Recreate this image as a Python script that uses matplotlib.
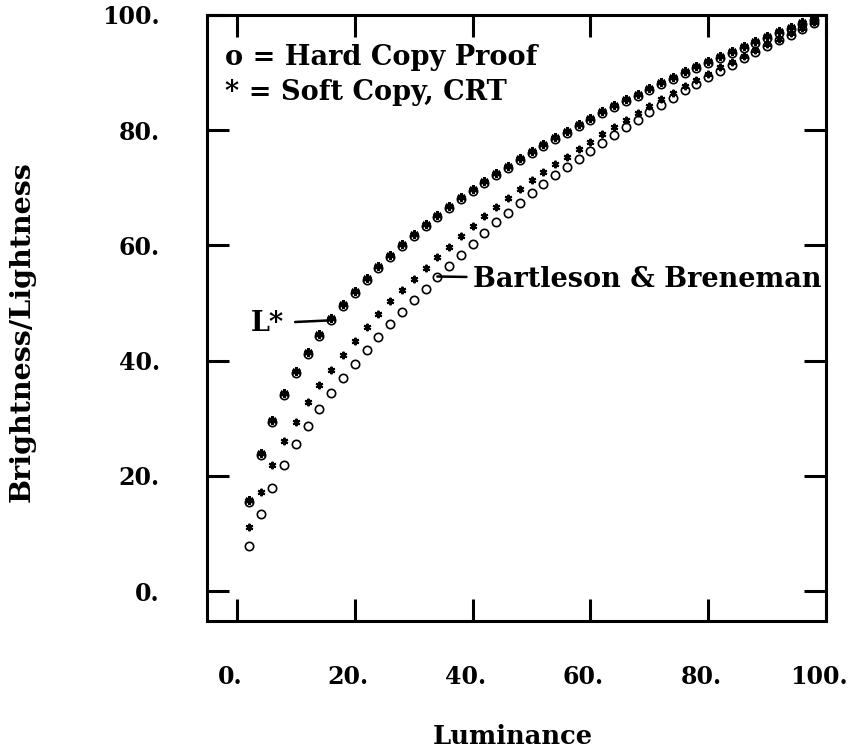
"""
    Brightness/Lightness versus Luminance: L* against Bartleson & Breneman.
"""
########################################################################################################################
# Imports
########################################################################################################################

import logging
import sys

import matplotlib
matplotlib.use("Agg")
import matplotlib.pyplot as plt
import matplotlib.transforms as mtransforms

########################################################################################################################
# Globals & Constants
########################################################################################################################

logger = logging.getLogger(name=__name__)

# Luminance samples (x axis).
LUMINANCE = [2, 4, 6, 8, 10, 12, 14, 16, 18, 20, 22, 24, 26, 28, 30, 32, 34, 36, 38, 40, 42, 44, 46, 48, 50,
             52, 54, 56, 58, 60, 62, 64, 66, 68, 70, 72, 74, 76, 78, 80, 82, 84, 86, 88, 90, 92, 94, 96, 98]

# Upper curve, L* (drawn with both the hard copy and soft copy symbols).
L_STAR = [15.5, 23.7, 29.4, 34.0, 37.8, 41.2, 44.2, 47.0, 49.5, 51.8, 54.0, 56.1, 58.0, 59.9, 61.7, 63.3, 65.0,
          66.5, 68.0, 69.5, 70.9, 72.2, 73.5, 74.8, 76.1, 77.3, 78.5, 79.6, 80.7, 81.8, 82.9, 84.0, 85.0, 86.0,
          87.0, 88.0, 88.9, 89.9, 90.8, 91.7, 92.6, 93.4, 94.3, 95.2, 96.0, 96.8, 97.6, 98.4, 99.2]

# Bartleson & Breneman, hard copy proof (circles).
HARD_COPY = [7.9, 13.3, 17.9, 21.9, 25.5, 28.7, 31.6, 34.3, 36.9, 39.4, 41.8, 44.1, 46.3, 48.5, 50.6, 52.5, 54.6,
             56.5, 58.4, 60.3, 62.2, 64.0, 65.7, 67.4, 69.1, 70.7, 72.2, 73.6, 75.0, 76.4, 77.8, 79.2, 80.5, 81.8,
             83.1, 84.4, 85.6, 86.9, 88.0, 89.2, 90.3, 91.4, 92.5, 93.6, 94.6, 95.6, 96.6, 97.6, 98.6]

# Bartleson & Breneman, soft copy CRT (asterisks).
SOFT_COPY = [11.2, 17.2, 21.9, 26.0, 29.4, 32.8, 35.7, 38.4, 41.0, 43.4, 45.8, 48.1, 50.3, 52.3, 54.1, 56.0, 58.0,
             59.8, 61.6, 63.4, 65.1, 66.7, 68.2, 69.8, 71.3, 72.7, 74.1, 75.4, 76.7, 78.0, 79.3, 80.6, 81.8, 83.0,
             84.2, 85.4, 86.5, 87.7, 88.8, 89.8, 90.9, 91.9, 92.9, 94.0, 94.9, 95.9, 96.8, 97.8, 98.7]

X_TICKS = [0, 20, 40, 60, 80, 100]
X_TICK_LABELS = ["0.", "20.", "40.", "60.", "80.", "100."]
Y_TICKS = [0, 20, 40, 60, 80, 100]
Y_TICK_LABELS = ["0.", "20.", "40.", "60.", "80.", "100."]

LEGEND_LINES = ["o = Hard Copy Proof", "* = Soft Copy, CRT"]

FONT = "DejaVu Serif"
TICK_SIZE = 17
TEXT_SIZE = 19.5
ASTERISK = (6, 2, 0)


########################################################################################################################
# Script: Body
########################################################################################################################

def plot_brightness(path: str = "out.png") -> None:
    """
    Draws the three curves, the annotations and saves the figure.

    :param str path: Output file name.
    """
    plt.rcParams["font.family"] = [FONT, "DejaVu Sans"]
    plt.rcParams["font.weight"] = "bold"

    fig = plt.figure(figsize=(8.56, 7.53), dpi=100)
    ax = fig.add_axes([0.2418, 0.1753, 0.7232, 0.8048])

    # asterisk glyphs in the original sit a couple of pixels above their circle
    lift = ax.transData + mtransforms.ScaledTranslation(0, 0.02, fig.dpi_scale_trans)

    ax.plot(LUMINANCE, L_STAR, linestyle="none", marker="o", markersize=6,
            markerfacecolor="none", markeredgecolor="black", markeredgewidth=1.2)
    ax.plot(LUMINANCE, L_STAR, linestyle="none", marker=ASTERISK, markersize=6,
            color="black", markeredgewidth=1.8, transform=lift)
    ax.plot(LUMINANCE, HARD_COPY, linestyle="none", marker="o", markersize=6,
            markerfacecolor="none", markeredgecolor="black", markeredgewidth=1.2)
    ax.plot(LUMINANCE, SOFT_COPY, linestyle="none", marker=ASTERISK, markersize=5.4,
            color="black", markeredgewidth=1.5)

    ax.set_xlim(-5.1, 100)
    ax.set_ylim(-5.2, 100)
    ax.set_xticks(X_TICKS)
    ax.set_xticklabels(X_TICK_LABELS)
    ax.set_yticks(Y_TICKS)
    ax.set_yticklabels(Y_TICK_LABELS)

    for spine in ax.spines.values():
        spine.set_linewidth(2.2)
    ax.tick_params(direction="in", length=16, width=2.2, top=True, right=True,
                   labelsize=TICK_SIZE, colors="black")
    ax.tick_params(axis="x", pad=32)
    ax.tick_params(axis="y", pad=34)

    shift = mtransforms.ScaledTranslation(-0.07, 0, fig.dpi_scale_trans)
    for label in ax.get_xticklabels():
        label.set_transform(label.get_transform() + shift)

    fig.text(22 / 856, 1 - 332 / 753, "Brightness/Lightness", rotation=90,
             ha="center", va="center", fontsize=20.5, fontweight="bold")
    fig.text(513 / 856, 1 - 736 / 753, "Luminance",
             ha="center", va="center", fontsize=18.5, fontweight="bold")

    # legend written as plain text lines in the upper left corner
    for i, line in enumerate(LEGEND_LINES):
        ax.text(0.029, 0.917 - i * 0.058, line, transform=ax.transAxes,
                ha="left", va="baseline", fontsize=TEXT_SIZE, fontweight="bold")

    ax.annotate("L*", xy=(LUMINANCE[7], L_STAR[7]), xytext=(-34, 0), textcoords="offset points",
                ha="right", va="center_baseline", fontsize=TEXT_SIZE, fontweight="bold",
                arrowprops=dict(arrowstyle="-", color="black", lw=1.8, shrinkA=6, shrinkB=0))
    ax.annotate("Bartleson & Breneman", xy=(LUMINANCE[16], HARD_COPY[16]), xytext=(26, 0),
                textcoords="offset points", ha="left", va="center_baseline",
                fontsize=TEXT_SIZE, fontweight="bold",
                arrowprops=dict(arrowstyle="-", color="black", lw=1.8, shrinkA=3, shrinkB=0))

    fig.savefig(path, dpi=100, facecolor="white")
    plt.close(fig)


########################################################################################################################
# Script: Main
########################################################################################################################

def main() -> int:
    logger.info("Drawing figure.")
    plot_brightness("out.png")
    return 0


if __name__ == '__main__':
    logging.basicConfig(level=logging.INFO, format="%(asctime)s - %(levelname)s: %(message)s",
                        handlers=[logging.StreamHandler(stream=sys.stdout)])
    exit(main())
